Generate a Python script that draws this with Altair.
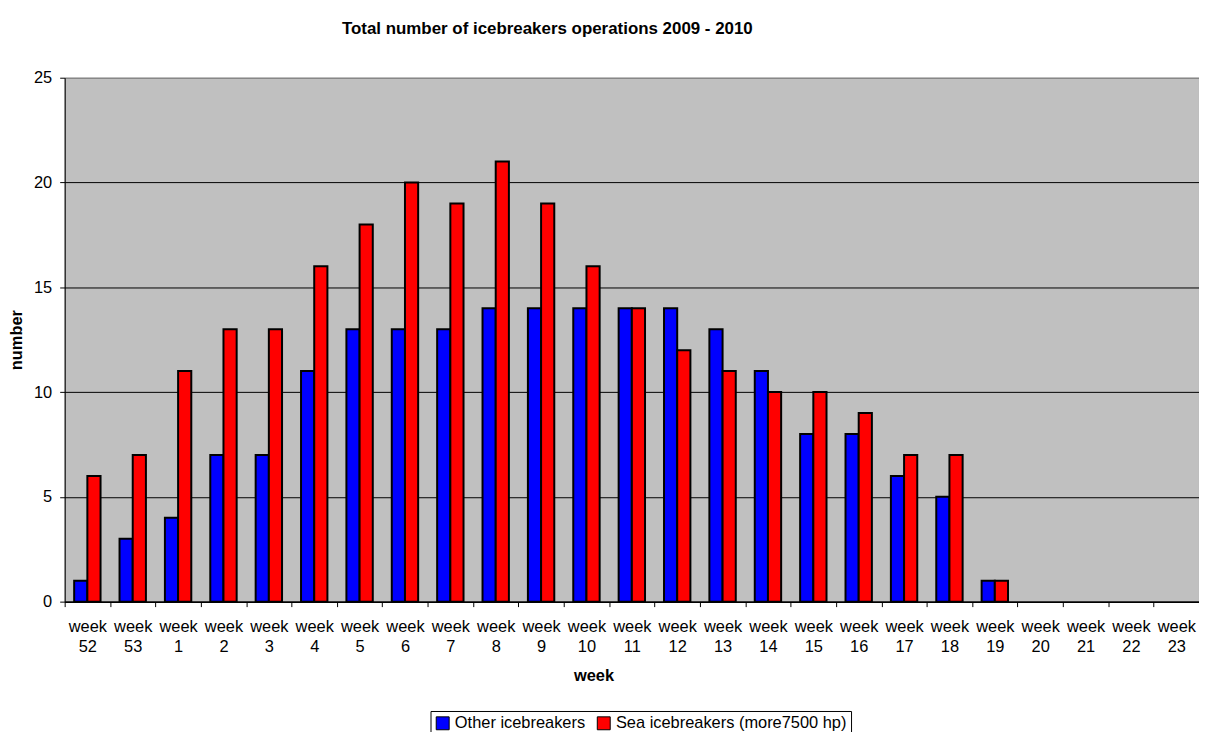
import altair as alt
import pandas as pd

weeks = ["week 52", "week 53", "week 1", "week 2", "week 3", "week 4", "week 5",
         "week 6", "week 7", "week 8", "week 9", "week 10", "week 11", "week 12",
         "week 13", "week 14", "week 15", "week 16", "week 17", "week 18",
         "week 19", "week 20", "week 21", "week 22", "week 23"]
other = [1, 3, 4, 7, 7, 11, 13, 13, 13, 14, 14, 14, 14, 14, 13, 11, 8, 8, 6, 5, 1, 0, 0, 0, 0]
sea = [6, 7, 11, 13, 13, 16, 18, 20, 19, 21, 19, 16, 14, 12, 11, 10, 10, 9, 7, 7, 1, 0, 0, 0, 0]
series = ["Other icebreakers", "Sea icebreakers (more7500 hp)"]
colors = ["#0000FF", "#FF0000"]

rows = []
for w, o, s in zip(weeks, other, sea):
    rows.append({"week": w, "series": series[0], "value": o})
    rows.append({"week": w, "series": series[1], "value": s})
df = pd.DataFrame(rows)

FONT = "Liberation Sans"
W, H = 1141, 527

chart = alt.Chart(df).transform_filter("datum.value > 0").mark_bar(
    stroke="black", strokeWidth=2
).encode(
    x=alt.X("week:N", sort=weeks,
            scale=alt.Scale(domain=weeks, paddingInner=0, paddingOuter=0),
            axis=alt.Axis(title="week", labelAngle=0,
                          labelExpr="split(datum.label, ' ')",
                          labelFontSize=16.5, labelColor="black",
                          labelLineHeight=20, labelPadding=12,
                          labelBaseline="top", labelLimit=200,
                          tickBand="extent", tickSize=5, tickColor="black",
                          domainColor="black", domainWidth=1.5,
                          titleFontSize=16.5, titleFontWeight="bold",
                          titleColor="black", titleX=532, titleY=74,
                          titleBaseline="middle", titleAlign="center",
                          grid=False)),
    xOffset=alt.XOffset("series:N", sort=series,
                        scale=alt.Scale(domain=series, paddingInner=0, paddingOuter=0.72)),
    y=alt.Y("value:Q",
            scale=alt.Scale(domain=[0, 25], nice=False),
            axis=alt.Axis(title="number", values=[0, 5, 10, 15, 20, 25],
                          labelFontSize=16.5, labelColor="black", labelPadding=8,
                          tickSize=5, tickColor="black",
                          domainColor="black", domainWidth=1,
                          gridColor={"condition": {"test": "datum.value >= 25", "value": "#808080"},
                                     "value": "black"},
                          gridWidth=1,
                          titleFontSize=16.5, titleFontWeight="bold",
                          titleColor="black", titleAngle=270,
                          titleX=-48, titleY=263.5,
                          titleAlign="center", titleBaseline="middle")),
    color=alt.Color("series:N", sort=series,
                    scale=alt.Scale(domain=series, range=colors),
                    legend=alt.Legend(title=None, orient="none",
                                      legendX=368, legendY=637,
                                      direction="horizontal",
                                      symbolType="square", symbolSize=169,
                                      symbolStrokeColor="black", symbolStrokeWidth=1,
                                      labelFontSize=16.5, labelColor="black",
                                      labelLimit=400,
                                      labelOffset=4, columnPadding=9,
                                      padding=4, strokeColor="black",
                                      fillColor="white")),
).properties(
    width=W, height=H,
    title=alt.TitleParams("Total number of icebreakers operations 2009 - 2010",
                          fontSize=17, fontWeight="bold", color="black",
                          anchor="middle", dx=-85, offset=15, baseline="bottom",
                          limit=1000, frame="group"),
    autosize=alt.AutoSizeParams(type="none"),
    padding={"left": 57, "top": 68, "right": 0, "bottom": 129},
).configure(
    font=FONT,
    background="white",
).configure_view(
    fill="#C0C0C0", stroke="#808080", strokeWidth=1
)

chart.save("out.html", embed_options={"renderer": "svg", "actions": False})
